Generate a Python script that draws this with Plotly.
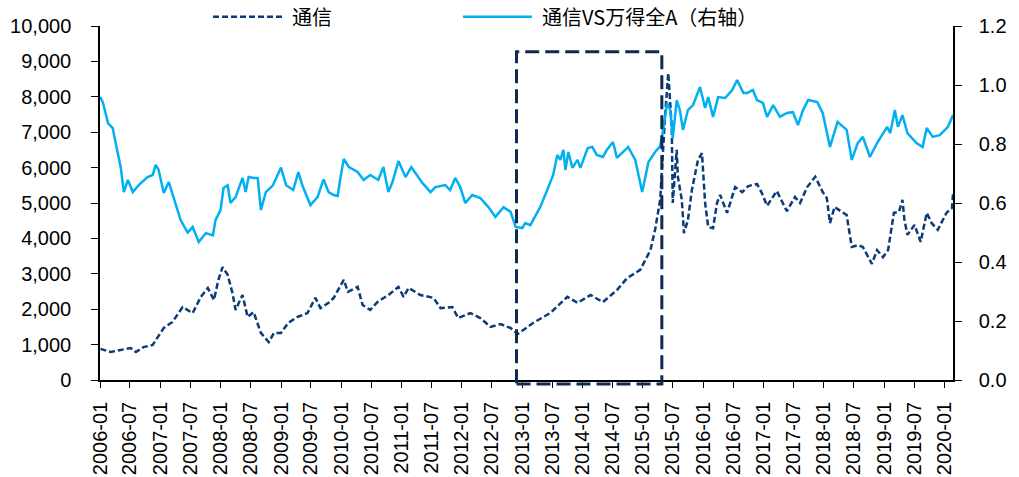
import plotly.graph_objects as go

# 通信 index level (left axis)
tx_dates = [
    "2006-01-04", "2006-03-07", "2006-05-06", "2006-07-06", "2006-08-06", "2006-09-22",
    "2006-11-16", "2006-12-16", "2007-01-22", "2007-03-16", "2007-05-16", "2007-07-16",
    "2007-09-04", "2007-10-16", "2007-11-22", "2007-12-19", "2008-01-13", "2008-02-13",
    "2008-03-13", "2008-04-01", "2008-05-13", "2008-06-13", "2008-07-19", "2008-09-01",
    "2008-10-19", "2008-11-19", "2009-01-01", "2009-02-13", "2009-04-10", "2009-06-10",
    "2009-07-28", "2009-08-28", "2009-10-16", "2009-11-16", "2010-01-16", "2010-02-10",
    "2010-04-10", "2010-05-10", "2010-06-25", "2010-08-07", "2010-10-13", "2010-12-13",
    "2011-01-13", "2011-02-13", "2011-04-25", "2011-07-13", "2011-08-25", "2011-11-04",
    "2011-12-10", "2012-02-22", "2012-04-22", "2012-06-22", "2012-08-22", "2012-10-22",
    "2012-12-04", "2013-03-07", "2013-06-19", "2013-10-01", "2013-12-01", "2014-02-19",
    "2014-05-04", "2014-07-28", "2014-09-28", "2014-12-16", "2015-02-16", "2015-03-16",
    "2015-04-16", "2015-05-16", "2015-06-04", "2015-06-25", "2015-07-01", "2015-07-25",
    "2015-08-01", "2015-08-25", "2015-09-07", "2015-10-01", "2015-10-25", "2015-12-01",
    "2015-12-25", "2016-01-13", "2016-02-01", "2016-03-01", "2016-03-25", "2016-04-13",
    "2016-05-25", "2016-07-13", "2016-08-25", "2016-10-01", "2016-11-22", "2016-12-22",
    "2017-01-22", "2017-03-22", "2017-05-22", "2017-07-10", "2017-08-10", "2017-09-22",
    "2017-11-10", "2017-12-25", "2018-01-19", "2018-02-07", "2018-03-07", "2018-04-19",
    "2018-05-19", "2018-06-19", "2018-07-25", "2018-08-25", "2018-10-19", "2018-11-19",
    "2018-12-25", "2019-01-25", "2019-03-01", "2019-04-01", "2019-04-22", "2019-05-04",
    "2019-05-22", "2019-07-04", "2019-08-10", "2019-09-16", "2019-10-16", "2019-11-22",
    "2020-01-13", "2020-02-16", "2020-02-22",
]
tx_values = [
    880, 790, 850, 900, 790, 930,
    990, 1210, 1470, 1640, 2060, 1890,
    2350, 2600, 2260, 2830, 3190, 2970,
    2460, 1980, 2400, 1780, 1920, 1330,
    1070, 1330, 1330, 1610, 1780, 1890,
    2320, 2030, 2180, 2320, 2830, 2490,
    2630, 2120, 1980, 2200, 2400, 2630,
    2350, 2600, 2400, 2320, 2030, 2060,
    1750, 1890, 1750, 1500, 1580, 1470,
    1300, 1610, 1890, 2350, 2180, 2400,
    2200, 2540, 2880, 3110, 3670, 4240,
    5090, 7500, 8670, 7150, 5000, 6500,
    5740, 5090, 4150, 4520, 5370, 6220,
    6410, 5000, 4320, 4290, 5000, 5230,
    4720, 5450, 5310, 5480, 5540, 5280,
    4920, 5340, 4770, 5170, 5000, 5450,
    5740, 5310, 5140, 4430, 4890, 4750,
    4660, 3760, 3810, 3760, 3280, 3670,
    3470, 3670, 4720, 4750, 5090, 4520,
    4100, 4380, 3900, 4720, 4430, 4240,
    4720, 4860, 5250,
]

# 通信VS万得全A ratio (right axis)
ratio_dates = [
    "2006-01-01", "2006-01-19", "2006-02-19", "2006-03-19", "2006-04-07", "2006-05-07",
    "2006-05-25", "2006-06-19", "2006-07-19", "2006-08-22", "2006-10-16", "2006-11-16",
    "2006-12-04", "2006-12-22", "2007-01-22", "2007-02-22", "2007-03-22", "2007-05-04",
    "2007-06-16", "2007-07-16", "2007-08-22", "2007-10-04", "2007-11-16", "2007-12-01",
    "2008-01-01", "2008-01-19", "2008-02-13", "2008-03-01", "2008-04-01", "2008-05-13",
    "2008-06-01", "2008-06-19", "2008-07-19", "2008-08-13", "2008-09-01", "2008-10-01",
    "2008-11-13", "2008-12-13", "2009-01-01", "2009-02-01", "2009-03-16", "2009-04-16",
    "2009-05-10", "2009-06-28", "2009-08-10", "2009-09-16", "2009-10-16", "2009-11-16",
    "2009-12-10", "2009-12-28", "2010-01-16", "2010-02-16", "2010-04-10", "2010-05-16",
    "2010-06-25", "2010-08-13", "2010-09-13", "2010-10-13", "2010-11-07", "2010-12-13",
    "2011-01-25", "2011-03-01", "2011-05-07", "2011-06-25", "2011-07-25", "2011-09-22",
    "2011-10-22", "2011-11-22", "2011-12-22", "2012-01-22", "2012-03-04", "2012-04-22",
    "2012-06-10", "2012-07-22", "2012-09-10", "2012-10-22", "2012-11-22", "2013-01-01",
    "2013-01-19", "2013-02-19", "2013-04-01", "2013-04-19", "2013-06-01", "2013-07-07",
    "2013-08-01", "2013-08-19", "2013-09-07", "2013-09-19", "2013-10-07", "2013-11-01",
    "2013-12-01", "2013-12-19", "2014-02-01", "2014-03-01", "2014-03-28", "2014-05-04",
    "2014-05-28", "2014-07-04", "2014-07-28", "2014-09-04", "2014-10-04", "2014-11-16",
    "2014-12-28", "2015-02-04", "2015-03-16", "2015-04-16", "2015-05-04", "2015-05-28",
    "2015-06-16", "2015-07-01", "2015-07-25", "2015-08-13", "2015-09-01", "2015-10-01",
    "2015-11-01", "2015-12-13", "2016-01-13", "2016-02-01", "2016-03-01", "2016-04-01",
    "2016-05-13", "2016-06-25", "2016-07-25", "2016-09-01", "2016-09-25", "2016-10-28",
    "2016-11-22", "2016-12-28", "2017-01-22", "2017-02-28", "2017-04-10", "2017-05-22",
    "2017-06-28", "2017-07-28", "2017-08-28", "2017-09-28", "2017-11-22", "2017-12-25",
    "2018-02-07", "2018-03-25", "2018-05-19", "2018-06-19", "2018-07-25", "2018-08-25",
    "2018-10-07", "2018-11-19", "2018-12-25", "2019-01-19", "2019-02-07", "2019-03-07",
    "2019-03-25", "2019-04-22", "2019-05-22", "2019-07-16", "2019-08-22", "2019-09-16",
    "2019-10-22", "2019-12-04", "2020-01-22", "2020-02-22",
]
ratio_values = [
    0.96, 0.94, 0.87, 0.854, 0.80, 0.72,
    0.637, 0.678, 0.637, 0.66, 0.688, 0.695,
    0.729, 0.712, 0.634, 0.671, 0.62, 0.542,
    0.50, 0.519, 0.468, 0.498, 0.49, 0.542,
    0.576, 0.651, 0.66, 0.60, 0.62, 0.685,
    0.637, 0.688, 0.685, 0.685, 0.576, 0.637,
    0.66, 0.70, 0.72, 0.66, 0.644, 0.705,
    0.66, 0.593, 0.62, 0.68, 0.637, 0.627,
    0.624, 0.688, 0.749, 0.722, 0.705, 0.678,
    0.695, 0.678, 0.722, 0.637, 0.671, 0.742,
    0.688, 0.722, 0.668, 0.637, 0.654, 0.661,
    0.644, 0.685, 0.654, 0.60, 0.627, 0.617,
    0.586, 0.553, 0.586, 0.57, 0.519, 0.515,
    0.532, 0.525, 0.57, 0.586, 0.644, 0.695,
    0.763, 0.746, 0.78, 0.712, 0.773, 0.719,
    0.746, 0.719, 0.786, 0.79, 0.763, 0.756,
    0.78, 0.807, 0.753, 0.773, 0.79, 0.746,
    0.637, 0.739, 0.773, 0.793, 0.848, 0.939,
    0.915, 0.82, 0.949, 0.915, 0.848, 0.915,
    0.932, 0.993, 0.922, 0.959, 0.892, 0.959,
    0.956, 0.983, 1.017, 0.973, 0.973, 0.983,
    0.949, 0.939, 0.892, 0.932, 0.892, 0.905,
    0.908, 0.864, 0.915, 0.949, 0.942, 0.905,
    0.79, 0.875, 0.848, 0.746, 0.803, 0.824,
    0.756, 0.803, 0.837, 0.858, 0.837, 0.915,
    0.858, 0.898, 0.837, 0.803, 0.79, 0.854,
    0.824, 0.83, 0.858, 0.898,
]

# highlighted window (2013 - mid 2015)
box_start = "2012-11-27"
box_end = "2015-04-26"
box_top = 9270

Y_MAX = 10000
NAVY = "#0b3b78"
BLUE = "#00b0f0"
BOX = "#0f2a52"
TICK_FONT = dict(family="Liberation Sans, Arial", size=20, color="#000000")
LEGEND_FONT = dict(family="Noto Sans CJK SC", size=20, color="#000000")

fig = go.Figure()

fig.add_trace(go.Scatter(
    x=tx_dates, y=tx_values, name="通信", mode="lines",
    line=dict(color=NAVY, width=2.5, dash="6px,3px"),
))
fig.add_trace(go.Scatter(
    x=ratio_dates, y=ratio_values, name="通信VS万得全A（右轴）", mode="lines",
    yaxis="y2", line=dict(color=BLUE, width=2.5),
))

# yref paper so the bottom edge can sit just under the axis line
fig.add_shape(
    type="rect", xref="x", yref="paper",
    x0=box_start, x1=box_end, y0=-0.011, y1=box_top / Y_MAX,
    line=dict(color=BOX, width=3, dash="14px,6px"),
)

# legend drawn by hand so the sample lines are long like the original
legend_items = [
    (0.1325, 0.2145, 0.2227, "通信", NAVY, "6px,3px"),
    (0.4256, 0.5064, 0.5158, "通信VS万得全A（右轴）", BLUE, "solid"),
]
for x0, x1, xt, label, color, dash in legend_items:
    fig.add_shape(
        type="line", xref="paper", yref="paper",
        x0=x0, x1=x1, y0=1.026, y1=1.026,
        line=dict(color=color, width=2.5, dash=dash),
    )
    fig.add_annotation(
        text=label, xref="paper", yref="paper", x=xt, y=1.026,
        xanchor="left", yanchor="middle", showarrow=False, font=LEGEND_FONT,
    )

axis_common = dict(
    ticks="outside",
    tickcolor="#000000",
    showline=True,
    linecolor="#000000",
    linewidth=1.5,
    showgrid=False,
    zeroline=False,
    tickfont=TICK_FONT,
    automargin=False,
)

fig.update_layout(
    width=1019,
    height=477,
    margin=dict(l=100, r=66, t=26, b=97),
    paper_bgcolor="white",
    plot_bgcolor="white",
    showlegend=False,
    xaxis=dict(
        range=["2006-01-01", "2020-02-22"],
        tick0="2006-01-01",
        dtick="M6",
        tickformat="%Y-%m",
        tickangle=-90,
        ticklen=6,
        ticklabelstandoff=6,
        **axis_common,
    ),
    yaxis=dict(
        range=[0, Y_MAX],
        dtick=1000,
        tickformat=",",
        ticklen=7,
        ticklabelstandoff=16,
        **axis_common,
    ),
    yaxis2=dict(
        range=[0, 1.2],
        dtick=0.2,
        tickformat=".1f",
        overlaying="y",
        side="right",
        ticklen=7,
        ticklabelstandoff=13,
        **axis_common,
    ),
)

# drop the default 8px body margin so the figure fills the window
fig.write_html(
    "out.html",
    config={"displayModeBar": False},
    post_script="document.body.style.margin = '0';",
)
